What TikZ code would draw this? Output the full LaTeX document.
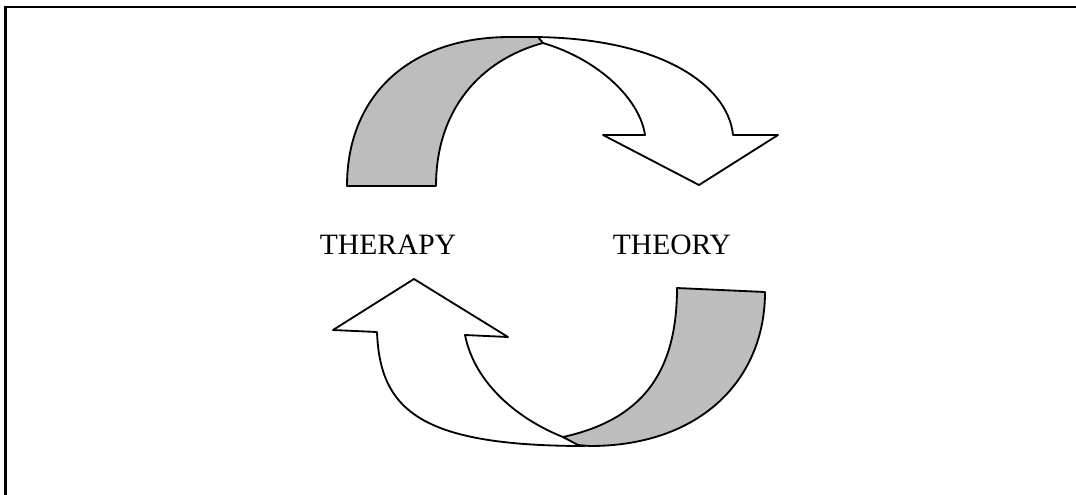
\documentclass[tikz,border=0pt]{standalone}
\usepackage{fontspec}
\setmainfont{Liberation Serif}
\usepackage{tikz}
\usetikzlibrary{positioning}
\definecolor{CBand}{HTML}{BDBDBD}

\begin{document}
\begin{tikzpicture}[x=0.025cm, y=-0.025cm,
    band/.style={draw=black, line width=1.3pt, line join=round},
    every node/.style={align=center, font=\fontsize{21}{21}\selectfont}]
  \useasboundingbox (0,0) rectangle (1076,494);
  % outer frame (runs off the right and bottom edges)
  \draw[line width=2pt] (5.5,7) rectangle (1078,496);

  % upper arrow: white front face, then grey back face over the twist
  \draw[band, fill=white] (543,43) .. controls (600,60) and (640,100) .. (645,135)
    -- (603,135) -- (699,185) -- (778,135) -- (733,135)
    .. controls (728,85) and (660,37) .. (530,37) -- cycle;
  \draw[band, fill=CBand] (347,186) -- (436,186)
    .. controls (436,110) and (480,60) .. (543,43)
    -- (538,37) -- (510,37)
    .. controls (410,37) and (347,95) .. cycle;

  % lower arrow
  \draw[band, fill=white] (563,437) .. controls (520,420) and (475,385) .. (465,335)
    -- (508,337) -- (414,279) -- (333,330) -- (377,332)
    .. controls (380,410) and (420,446) .. (585,446) -- cycle;
  \draw[band, fill=CBand] (677,288) -- (765,292)
    .. controls (765,380) and (700,446) .. (590,446)
    -- (578,445) -- (563,437)
    .. controls (640,420) and (677,375) .. cycle;

  \node (therapy) at (388,245) {THERAPY};
  \node (theory)  at (672,245) {THEORY};
\end{tikzpicture}
\end{document}
